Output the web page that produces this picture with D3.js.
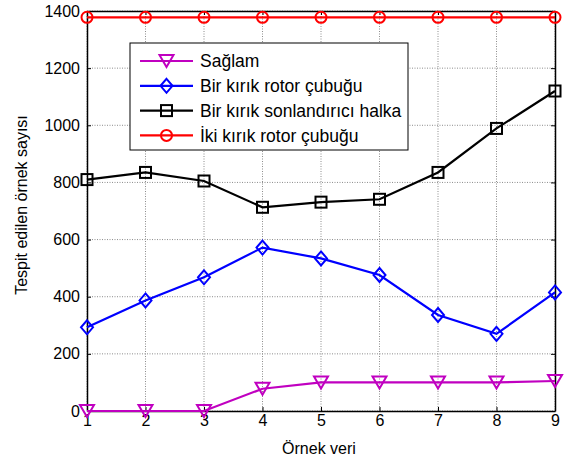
<!DOCTYPE html>
<html><head><meta charset="utf-8">
<script src="https://cdn.jsdelivr.net/npm/d3@7"></script>
<style>body{margin:0;background:#fff}svg{display:block}text{font-family:"Liberation Sans",Arial,sans-serif}</style>
</head><body><svg id="c" width="564" height="463"></svg>
<script>
const xValues = [1,2,3,4,5,6,7,8,9];
const saglam = [0,0,0,78,100,100,100,100,105];
const birRotor = [293,387,468,572,534,476,336,270,415];
const birHalka = [810,835,805,713,731,741,835,989,1120];
const ikiRotor = [1378,1378,1378,1378,1378,1378,1378,1378,1378];
const seriesNames = ["Sağlam","Bir kırık rotor çubuğu","Bir kırık sonlandırıcı halka","İki kırık rotor çubuğu"];
const yTicks = [0,200,400,600,800,1000,1200,1400];
const xLabel = "Örnek veri";
const yLabel = "Tespit edilen örnek sayısı";

const series = [
  {name: seriesNames[0], values: saglam, color: "#c000c0", marker: "tri"},
  {name: seriesNames[1], values: birRotor, color: "#0000ff", marker: "dia"},
  {name: seriesNames[2], values: birHalka, color: "#000000", marker: "sq"},
  {name: seriesNames[3], values: ikiRotor, color: "#ff0000", marker: "circ"}
];

const L=87, R=555, T=11, B=411;
const svg = d3.select("#c");
const x = d3.scaleLinear().domain([1,9]).range([L,R]);
const y = d3.scaleLinear().domain([0,1400]).range([B,T]);

// grid
const g = svg.append("g");
g.selectAll(".gx").data(xValues).enter().append("line")
  .attr("x1",d=>x(d)).attr("x2",d=>x(d)).attr("y1",T).attr("y2",B)
  .attr("stroke","#8c8c8c").attr("stroke-width",1).attr("stroke-dasharray","1,1.5");
g.selectAll(".gy").data(yTicks).enter().append("line")
  .attr("x1",L).attr("x2",R).attr("y1",d=>y(d)).attr("y2",d=>y(d))
  .attr("stroke","#8c8c8c").attr("stroke-width",1).attr("stroke-dasharray","1,1.5");

// axes
const ax = svg.append("g").attr("transform",`translate(0,${B})`)
  .call(d3.axisBottom(x).tickValues(xValues).tickFormat(d3.format("d")).tickSizeInner(-4).tickSizeOuter(0).tickPadding(4));
const ay = svg.append("g").attr("transform",`translate(${L},0)`)
  .call(d3.axisLeft(y).tickValues(yTicks).tickFormat(d3.format("d")).tickSizeInner(-4).tickSizeOuter(0).tickPadding(7));
svg.append("g").attr("transform",`translate(0,${T})`)
  .call(d3.axisTop(x).tickValues(xValues).tickFormat("").tickSizeInner(-4).tickSizeOuter(0));
svg.append("g").attr("transform",`translate(${R},0)`)
  .call(d3.axisRight(y).tickValues(yTicks).tickFormat("").tickSizeInner(-4).tickSizeOuter(0));
svg.selectAll(".domain").attr("stroke","#000").attr("stroke-width",1.5);
svg.selectAll(".tick line").attr("stroke","#000");
svg.selectAll(".tick text").attr("font-size",16).attr("fill","#000");

// lines & markers
const line = d3.line().x((d,i)=>x(xValues[i])).y(d=>y(d));
function drawMarker(sel, type, color){
  if(type==="tri") sel.append("path").attr("d","M-7,-6L7,-6L0,6Z");
  else if(type==="dia") sel.append("path").attr("d","M0,-7L6,0L0,7L-6,0Z");
  else if(type==="sq") sel.append("rect").attr("x",-5.5).attr("y",-5.5).attr("width",11).attr("height",11);
  else sel.append("circle").attr("r",5.5);
  sel.selectAll("*").attr("fill","none").attr("stroke",color).attr("stroke-width",2);
}
series.forEach(s=>{
  svg.append("path").datum(s.values).attr("d",line).attr("fill","none")
    .attr("stroke",s.color).attr("stroke-width",2.2);
  s.values.forEach((v,i)=>{
    const m = svg.append("g").attr("transform",`translate(${x(xValues[i])},${y(v)})`);
    drawMarker(m, s.marker, s.color);
  });
});

// legend
const lg = svg.append("g");
lg.append("rect").attr("x",130).attr("y",43).attr("width",278).attr("height",107)
  .attr("fill","#fff").attr("stroke","#000").attr("stroke-width",1);
series.forEach((s,i)=>{
  const yy = 61 + i*24.8;
  lg.append("line").attr("x1",140).attr("x2",193).attr("y1",yy).attr("y2",yy)
    .attr("stroke",s.color).attr("stroke-width",2.2);
  const m = lg.append("g").attr("transform",`translate(166.5,${yy})`);
  drawMarker(m, s.marker, s.color);
  lg.append("text").attr("x",200).attr("y",yy).attr("dy","0.35em").attr("font-size",17.5)
    .attr("fill","#000").text(s.name);
});

// axis labels
svg.append("text").attr("x",319).attr("y",454).attr("text-anchor","middle")
  .attr("font-size",16).text(xLabel);
svg.append("text").attr("transform",`translate(27,205) rotate(-90)`).attr("text-anchor","middle")
  .attr("font-size",16).text(yLabel);
</script></body></html>
